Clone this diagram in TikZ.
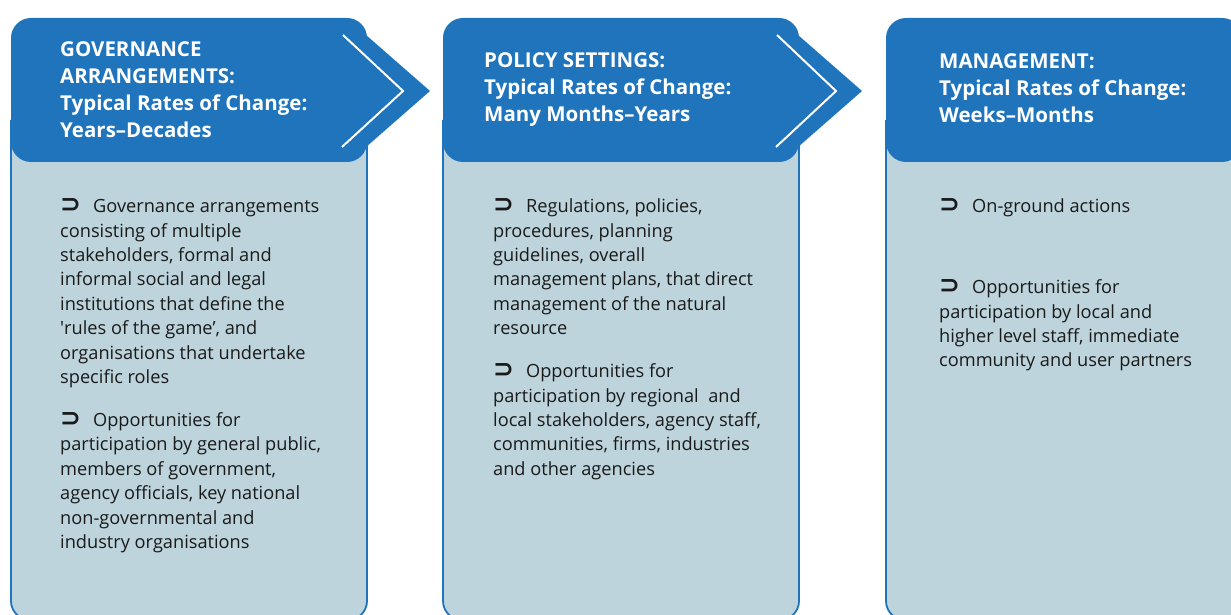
\documentclass[tikz,border=0pt]{standalone}
\usepackage{fontspec}
\setmainfont{Open Sans}
\newfontfamily\symfont{DejaVu Sans}
\usetikzlibrary{positioning}
\definecolor{hdblue}  {HTML}{1F74BB}
\definecolor{bodyfill}{HTML}{BDD4DC}
\definecolor{ink}     {HTML}{1A1A1A}
% curled bullet in front of each point
\newcommand{\curlbul}{{\symfont\bfseries\fontsize{25bp}{19bp}\selectfont ⊃}\hspace{12bp}}
\tikzset{
  % --- shapes
  hdbox/.style    = {fill=hdblue, rounded corners=20bp},
  hdtip/.style    = {fill=hdblue},
  bodybox/.style  = {draw=hdblue, fill=bodyfill, line width=1.8bp, rounded corners=19bp},
  chevron/.style  = {draw=white, line width=2bp},
  % --- texts
  hdtext/.style   = {text=white, align=left, inner sep=0pt,
                     font=\fontsize{20.5bp}{27bp}\selectfont\bfseries},
  bodytext/.style = {text=ink, align=left, inner sep=0pt,
                     font=\fontsize{18.2bp}{24.4bp}\selectfont},
}
\begin{document}
\begin{tikzpicture}[x=1bp,y=-1bp]
  \useasboundingbox (0,0) rectangle (1231,615);
  \clip (0,0) rectangle (1231,615);

  % bodies
  \filldraw[bodybox] (11,120) -- (11,620) -- (367,620) -- (367,120);
  \filldraw[bodybox] (443,120) -- (443,620) -- (799,620) -- (799,120);
  \filldraw[bodybox] (886,120) -- (886,620) -- (1242,620) -- (1242,120);

  % headers
  \fill[hdbox] (11,18) rectangle (367,162);
  \fill[hdtip] (366,35) -- (430,91) -- (366,147) -- cycle;
  \draw[chevron] (343,35) -- (403,91) -- (342,147);

  \fill[hdbox] (443,18) rectangle (799,162);
  \fill[hdtip] (798,35) -- (862,91) -- (798,147) -- cycle;
  \draw[chevron] (777,35) -- (836,91) -- (776,147);

  \fill[hdbox] (886,18) rectangle (1242,162);

  % header texts
  \node[hdtext, anchor=west] (govhd) at (60,89.5)
        {GOVERNANCE\\ARRANGEMENTS:\\Typical Rates of Change:\\Years--Decades};
  \node[hdtext, anchor=west] (polhd) at (484,89.5)
        {POLICY SETTINGS:\\Typical Rates of Change:\\Many Months--Years};
  \node[hdtext, anchor=west] (mgthd) at (939,88.5)
        {MANAGEMENT:\\Typical Rates of Change:\\Weeks--Months};

  % points
  \node[bodytext, anchor=north west] (govpts) at (60,198.5) {%
    \curlbul Governance arrangements\\consisting of multiple\\stakeholders, formal and\\
    informal social and legal\\institutions that define the\\
    \textquotesingle rules of the game', and\\organisations that undertake\\specific roles\\[18.6bp]
    \curlbul Opportunities for\\participation by general public,\\members of government,\\
    agency officials, key national\\non-governmental and\\industry organisations};
  \node[bodytext, anchor=north west] (polpts) at (493,198.5) {%
    \curlbul Regulations, policies,\\procedures, planning\\guidelines, overall\\
    management plans, that direct\\management of the natural\\resource\\[18.6bp]
    \curlbul Opportunities for\\participation by regional\ \ and\\local stakeholders, agency staff,\\
    communities, firms, industries\\and other agencies};
  \node[bodytext, anchor=north west] (mgtpts) at (939,198.5) {%
    \curlbul On-ground actions\\[56.6bp]
    \curlbul Opportunities for\\participation by local and\\higher level staff, immediate\\
    community and user partners};
\end{tikzpicture}
\end{document}
